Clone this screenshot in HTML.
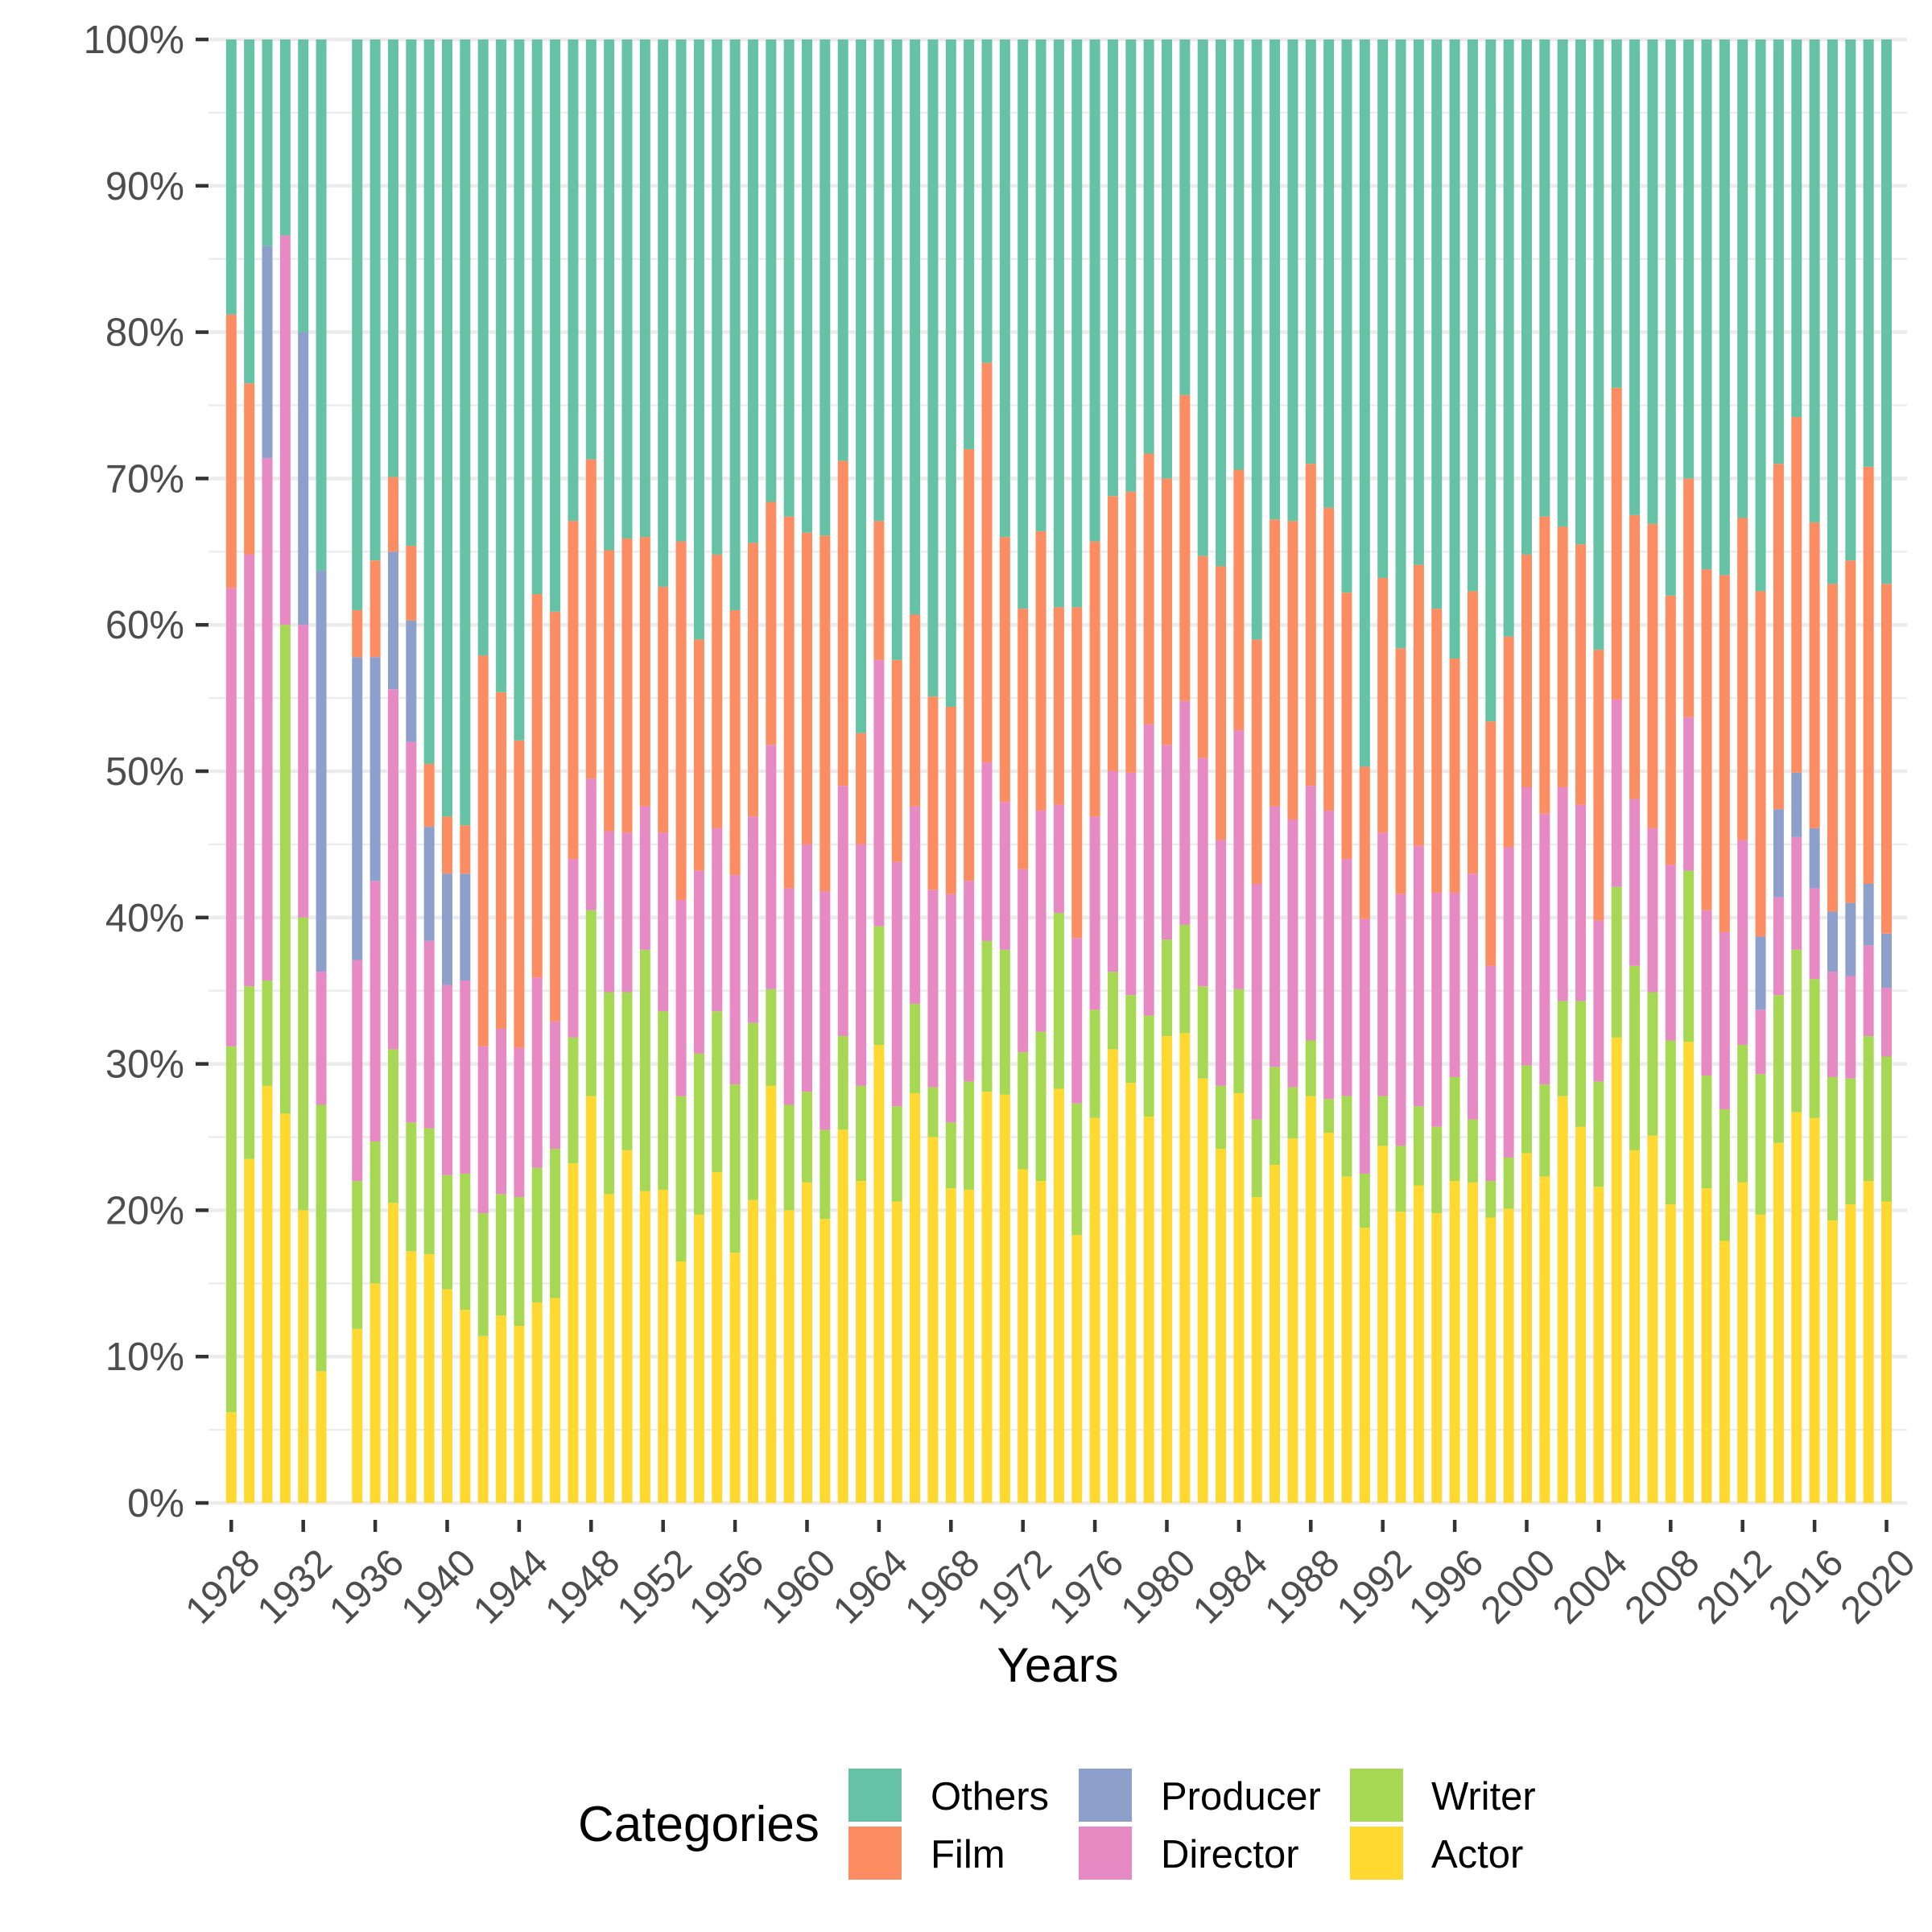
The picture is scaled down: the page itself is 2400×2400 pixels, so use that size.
<!DOCTYPE html>
<html><head><meta charset="utf-8"><style>
html,body{margin:0;padding:0;background:#fff;}
svg{display:block;font-family:"Liberation Sans",Arial,sans-serif;}
</style></head><body>
<svg id="chart" width="2400" height="2400" viewBox="0 0 2400 2400" xmlns="http://www.w3.org/2000/svg">
<g id="grid"></g>
<g id="bars"></g>
<g id="yaxis"></g>
<g id="xaxis"></g>
<text x="1314" y="2089" font-size="60" text-anchor="middle" fill="#000">Years</text>
<g>
<text x="718" y="2287" font-size="62" fill="#000">Categories</text>
<rect x="1054" y="2197" width="66" height="66" fill="#66c2a5"/>
<text x="1156" y="2248" font-size="49" fill="#000">Others</text>
<rect x="1054" y="2269" width="66" height="66" fill="#fc8d62"/>
<text x="1156" y="2320" font-size="49" fill="#000">Film</text>
<rect x="1340" y="2197" width="66" height="66" fill="#8da0cb"/>
<text x="1442" y="2248" font-size="49" fill="#000">Producer</text>
<rect x="1340" y="2269" width="66" height="66" fill="#e78ac3"/>
<text x="1442" y="2320" font-size="49" fill="#000">Director</text>
<rect x="1677" y="2197" width="66" height="66" fill="#a6d854"/>
<text x="1778" y="2248" font-size="49" fill="#000">Writer</text>
<rect x="1677" y="2269" width="66" height="66" fill="#ffd92f"/>
<text x="1778" y="2320" font-size="49" fill="#000">Actor</text>
</g>
</svg>
<script>
// Years 1928..2020 (1934 has no data)
const years = [];
for (let y = 1928; y <= 2020; y++) years.push(y);
const missingYears = [1934];
// Cumulative stack tops (%) per year, bottom to top: Actor, Writer, Director, Producer, Film; Others fills to 100
const cumActor = [6.2,23.5,28.5,26.6,20,9,0,11.9,15,20.5,17.2,17,14.6,13.2,11.4,12.8,12.1,13.7,14,23.2,27.8,21.1,24.1,21.3,21.4,16.5,19.7,22.6,17.1,20.7,28.5,20,21.9,19.4,25.5,22,31.3,20.6,28,25,21.5,21.4,28.1,27.9,22.8,22,28.3,18.3,26.3,31,28.7,26.4,31.9,32.1,29,24.2,28,20.9,23.1,24.9,27.8,25.3,22.3,18.8,24.4,19.9,21.7,19.8,22,21.9,19.5,20.1,23.9,22.3,27.8,25.7,21.6,31.8,24.1,25.1,20.4,31.5,21.5,17.9,21.9,19.7,24.6,26.7,26.3,19.3,20.4,22,20.6];
const cumWriter = [31.2,35.3,35.7,60,40,27.2,0,22,24.7,31,26,25.6,22.4,22.5,19.8,21.1,20.9,22.9,24.2,31.8,40.5,34.9,34.9,37.8,33.6,27.8,30.7,33.6,28.6,32.8,35.1,27.2,28.1,25.5,31.9,28.5,39.4,27.1,34.1,28.4,26,28.8,38.4,37.8,30.8,32.2,40.3,27.3,33.7,36.3,34.7,33.3,38.5,39.5,35.3,28.5,35.1,26.2,29.8,28.4,31.6,27.6,27.8,22.5,27.8,24.4,27.1,25.7,29.1,26.2,22,23.6,29.9,28.6,34.3,34.3,28.8,42.1,36.7,34.9,31.6,43.2,29.2,26.9,31.3,29.3,34.7,37.8,35.8,29.1,29,31.9,30.5];
const cumDirector = [62.5,64.8,71.4,86.6,60,36.3,0,37.1,42.5,55.6,52,38.4,35.4,35.7,31.2,32.4,31.1,35.9,32.9,44,49.5,45.9,45.8,47.6,45.8,41.2,43.2,46.1,42.9,46.9,51.8,42,45,41.8,49,45,57.6,43.8,47.6,41.9,41.6,42.5,50.6,47.9,43.3,47.3,47.7,38.6,46.9,50,49.9,53.2,51.8,54.8,50.9,45.3,52.8,42.3,47.6,46.7,49,47.3,44,39.9,45.8,41.6,44.9,41.7,41.7,43,36.7,44.8,48.9,47.1,48.9,47.7,39.8,54.9,48.1,46.1,43.6,53.7,40.5,39,45.3,33.7,41.4,45.5,42,36.3,36,38.1,35.2];
const cumProducer = [62.5,64.8,85.9,86.6,80,63.7,0,57.8,57.8,65,60.3,46.2,43,43,31.2,32.4,31.1,35.9,32.9,44,49.5,45.9,45.8,47.6,45.8,41.2,43.2,46.1,42.9,46.9,51.8,42,45,41.8,49,45,57.6,43.8,47.6,41.9,41.6,42.5,50.6,47.9,43.3,47.3,47.7,38.6,46.9,50,49.9,53.2,51.8,54.8,50.9,45.3,52.8,42.3,47.6,46.7,49,47.3,44,39.9,45.8,41.6,44.9,41.7,41.7,43,36.7,44.8,48.9,47.1,48.9,47.7,39.8,54.9,48.1,46.1,43.6,53.7,40.5,39,45.3,38.7,47.4,49.9,46.1,40.4,41,42.3,38.9];
const cumFilm = [81.2,76.5,85.9,86.6,80,63.7,0,61,64.4,70.1,65.4,50.5,46.9,46.3,57.9,55.4,52.1,62.1,60.9,67.1,71.3,65.1,65.9,66,62.6,65.7,59,64.8,61,65.6,68.4,67.4,66.3,66.1,71.2,52.6,67.1,57.6,60.7,55.1,54.4,72,77.9,66,61.1,66.4,61.2,61.2,65.7,68.8,69.1,71.7,70,75.7,64.7,64,70.6,59,67.2,67.1,71,68,62.2,50.3,63.2,58.4,64.1,61.1,57.7,62.3,53.4,59.2,64.8,67.4,66.7,65.5,58.3,76.2,67.5,66.9,62,70,63.8,63.4,67.3,62.3,71,74.2,67,62.8,64.4,70.8,62.8];
const yTicks = [0,10,20,30,40,50,60,70,80,90,100];
const xTickYears = [1928,1932,1936,1940,1944,1948,1952,1956,1960,1964,1968,1972,1976,1980,1984,1988,1992,1996,2000,2004,2008,2012,2016,2020];
const colors = {actor:"#ffd92f",writer:"#a6d854",director:"#e78ac3",producer:"#8da0cb",film:"#fc8d62",others:"#66c2a5"};

const NS = "http://www.w3.org/2000/svg";
const panelL = 259, panelR = 2369;
const x = yr => 287.3 + (yr - 1928) * 22.35;
const y = v => 1867 - v * 18.18;
const barW = 13;
function mk(tag, attrs, parent){const e=document.createElementNS(NS,tag);for(const k in attrs)e.setAttribute(k,attrs[k]);parent.appendChild(e);return e;}

const grid = document.getElementById('grid');
for (let v = 5; v <= 95; v += 10) {
  const l = mk('line',{x1:panelL,x2:panelR,y1:y(v),y2:y(v),stroke:'#ebebeb','stroke-width':2.3},grid);
  
  
}
yTicks.forEach(v => {
  const l = mk('line',{x1:panelL,x2:panelR,y1:y(v),y2:y(v),stroke:'#ebebeb','stroke-width':4.5},grid);
  
  
});

const bars = document.getElementById('bars');
years.forEach((yr, i) => {
  if (missingYears.includes(yr)) return;
  const segs = [
    ['actor', 0, cumActor[i]],
    ['writer', cumActor[i], cumWriter[i]],
    ['director', cumWriter[i], cumDirector[i]],
    ['producer', cumDirector[i], cumProducer[i]],
    ['film', cumProducer[i], cumFilm[i]],
    ['others', cumFilm[i], 100]
  ];
  segs.forEach(([cat, lo, hi]) => {
    if (hi - lo <= 0) return;
    const r = mk('rect',{x:x(yr)-barW/2,y:y(hi),width:barW,height:y(lo)-y(hi),fill:colors[cat]},bars);
    
    
  });
});

const yax = document.getElementById('yaxis');
yTicks.forEach(v => {
  const t = mk('line',{x1:243,x2:259,y1:y(v),y2:y(v),stroke:'#333','stroke-width':4.5},yax);
  
  
  const tx = mk('text',{x:229,y:y(v)+17,'font-size':49,'text-anchor':'end',fill:'#4d4d4d'},yax);
  tx.textContent = v + '%';
  
  
});

const xax = document.getElementById('xaxis');
xTickYears.forEach(yr => {
  const t = mk('line',{x1:x(yr),x2:x(yr),y1:1888,y2:1903,stroke:'#333','stroke-width':4.5},xax);
  
  
  const ax = x(yr) + 14, ay = 1920;
  const tx = mk('text',{x:ax,y:ay,'font-size':48,'text-anchor':'end',fill:'#4d4d4d',transform:'rotate(-45 '+ax+' '+ay+')',dy:'0.72em'},xax);
  tx.textContent = yr;
  
  
});
</script>
</body></html>
